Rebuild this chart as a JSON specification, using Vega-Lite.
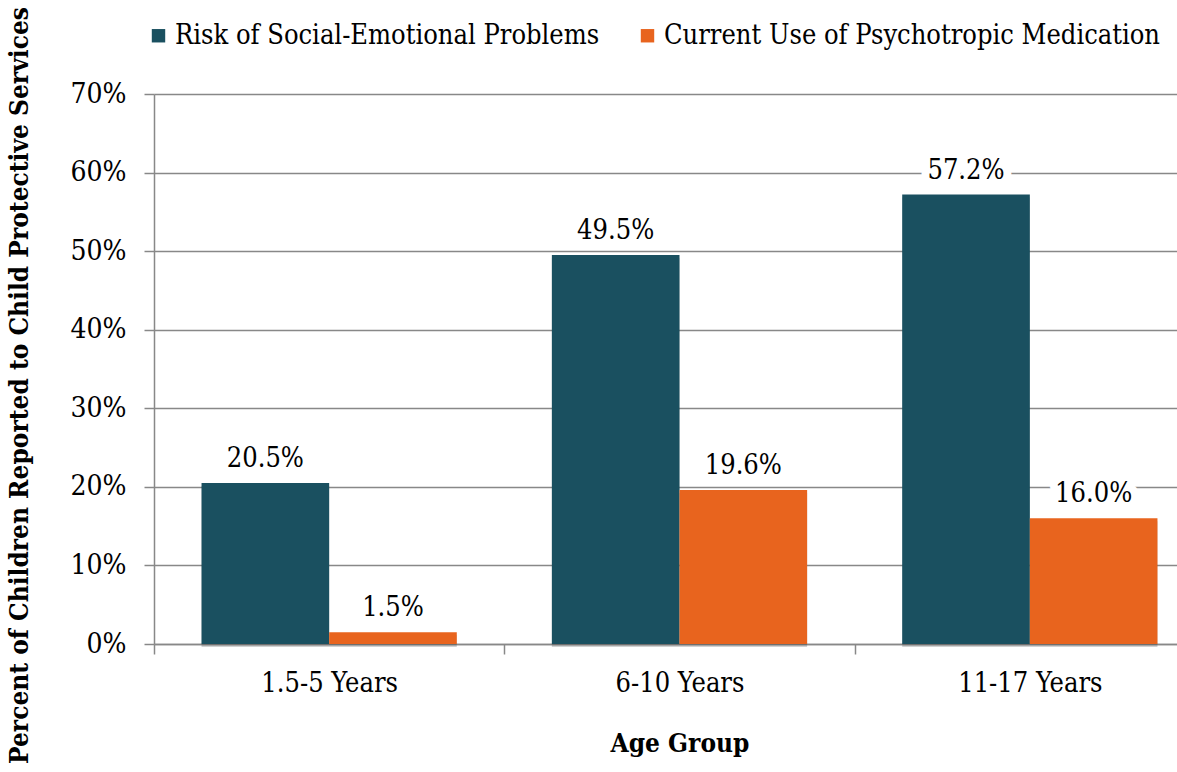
{
  "$schema": "https://vega.github.io/schema/vega-lite/v6.json",
  "width": 1023,
  "height": 550,
  "autosize": "none",
  "padding": {"left": 154, "top": 94, "right": 0, "bottom": 128},
  "background": "white",
  "config": {
    "font": "DejaVu Serif Condensed, DejaVu Serif",
    "view": {"stroke": null}
  },
  "data": {
    "values": [
      {"group": "1.5-5 Years", "series": "Risk of Social-Emotional  Problems", "value": 0.205},
      {"group": "1.5-5 Years", "series": "Current Use of Psychotropic Medication", "value": 0.015},
      {"group": "6-10 Years", "series": "Risk of Social-Emotional  Problems", "value": 0.495},
      {"group": "6-10 Years", "series": "Current Use of Psychotropic Medication", "value": 0.196},
      {"group": "11-17 Years", "series": "Risk of Social-Emotional  Problems", "value": 0.572},
      {"group": "11-17 Years", "series": "Current Use of Psychotropic Medication", "value": 0.16}
    ]
  },
  "encoding": {
    "x": {
      "field": "group",
      "type": "nominal",
      "sort": ["1.5-5 Years", "6-10 Years", "11-17 Years"],
      "scale": {"range": [0, 1051], "paddingInner": 0, "paddingOuter": 0},
      "axis": {
        "title": "Age Group",
        "titleFont": "DejaVu Serif Condensed, DejaVu Serif",
        "titleFontSize": 26,
        "titleFontWeight": "bold",
        "titleColor": "#000000",
        "titlePadding": 34,
        "labelAngle": 0,
        "labelFont": "DejaVu Serif Condensed, DejaVu Serif",
        "labelFontSize": 27,
        "labelColor": "#000000",
        "labelPadding": 16,
        "tickBand": "extent",
        "tickSize": 10,
        "tickColor": "#888888",
        "tickWidth": 1.5,
        "domainColor": "#888888",
        "domainWidth": 1.5,
        "grid": false
      }
    },
    "xOffset": {
      "field": "series",
      "type": "nominal",
      "sort": ["Risk of Social-Emotional  Problems", "Current Use of Psychotropic Medication"],
      "scale": {"paddingInner": 0, "paddingOuter": 0.3725}
    },
    "y": {
      "field": "value",
      "type": "quantitative",
      "scale": {"domain": [0, 0.7], "nice": false},
      "axis": {
        "title": "Percent of Children Reported to Child Protective Services",
        "titleFont": "DejaVu Serif Condensed, DejaVu Serif",
        "titleFontSize": 26,
        "titleFontWeight": "bold",
        "titleColor": "#000000",
        "titleX": -122,
        "titleY": 291,
        "format": ".0%",
        "values": [0, 0.1, 0.2, 0.3, 0.4, 0.5, 0.6, 0.7],
        "labelFont": "DejaVu Serif Condensed, DejaVu Serif",
        "labelFontSize": 28,
        "labelColor": "#000000",
        "labelPadding": 18,
        "tickSize": 10,
        "tickColor": "#888888",
        "tickWidth": 1.5,
        "domainColor": "#888888",
        "domainWidth": 1.5,
        "grid": true,
        "gridColor": "#888888",
        "gridWidth": 1.5
      }
    }
  },
  "layer": [
    {
      "mark": {"type": "bar", "color": "#000000", "opacity": 0.18, "xOffset": 4, "yOffset": 3},
      "encoding": {}
    },
    {
      "mark": {"type": "bar"},
      "encoding": {
        "color": {
          "field": "series",
          "type": "nominal",
          "sort": ["Risk of Social-Emotional  Problems", "Current Use of Psychotropic Medication"],
          "scale": {"range": ["#1a5060", "#e8641e"]},
          "legend": {
            "title": null,
            "orient": "none",
            "legendX": -9,
            "legendY": -72,
            "direction": "horizontal",
            "symbolType": "square",
            "symbolSize": 180,
            "symbolStrokeWidth": 0,
            "labelFont": "DejaVu Serif Condensed, DejaVu Serif",
            "labelFontSize": 27,
            "labelColor": "#000000",
            "labelLimit": 0,
            "labelOffset": 3,
            "columnPadding": 27
          }
        }
      }
    },
    {
      "mark": {"type": "text", "baseline": "bottom", "dy": -10, "fontSize": 27, "font": "DejaVu Serif Condensed, DejaVu Serif", "color": "#ffffff", "stroke": "#ffffff", "strokeWidth": 16, "strokeJoin": "round"},
      "encoding": {
        "text": {"field": "value", "type": "quantitative", "format": ".1%"}
      }
    },
    {
      "mark": {"type": "text", "baseline": "bottom", "dy": -10, "fontSize": 27, "font": "DejaVu Serif Condensed, DejaVu Serif", "color": "#000000"},
      "encoding": {
        "text": {"field": "value", "type": "quantitative", "format": ".1%"}
      }
    }
  ]
}
